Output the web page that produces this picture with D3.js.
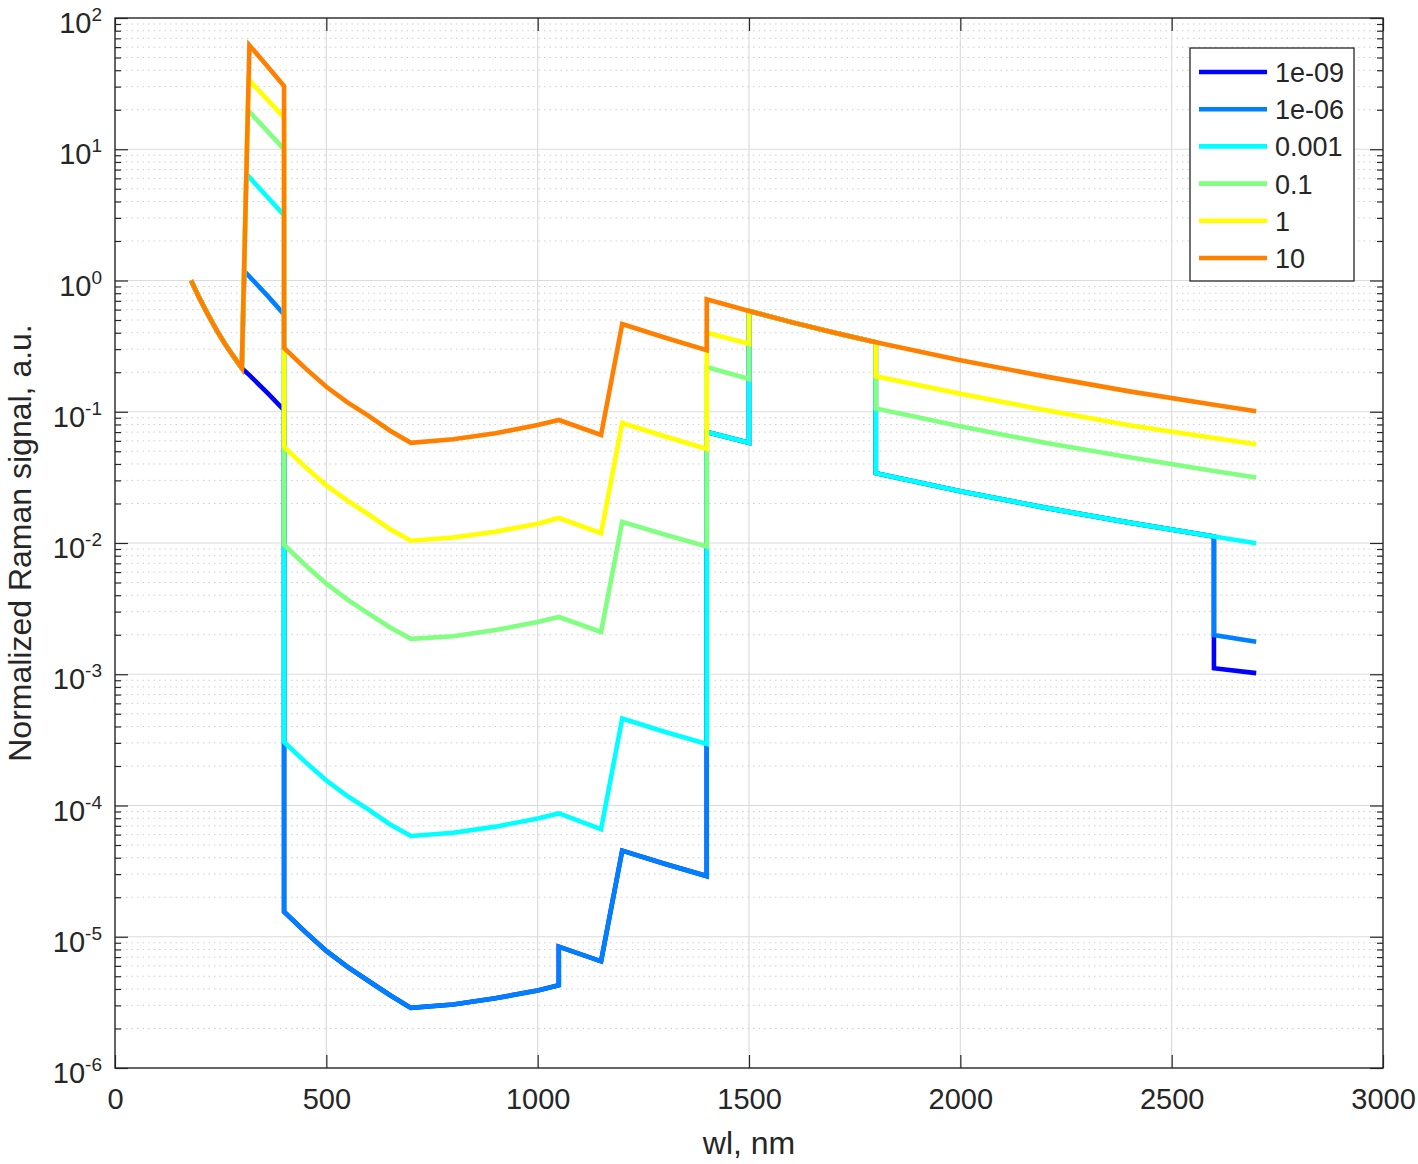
<!DOCTYPE html>
<html>
<head>
<meta charset="utf-8">
<script src="https://cdn.jsdelivr.net/npm/d3@7"></script>
<style>
  body{margin:0;background:#fff;}
  svg text{font-family:"Liberation Sans",Arial,Helvetica,sans-serif;fill:#262626;}
</style>
</head>
<body>
<div id="chart"></div>
<script>
// wavelength grid, nm (repeated values = vertical jumps)
const wavelengths = [180,200,220,240,260,280,300,318,360,400,400,450,500,550,600,650,700,800,900,1000,1050,1050,1150,1200,1300,1400,1400,1500,1500,1600,1700,1800,1800,2000,2200,2400,2600,2600,2700]
// where each series starts its 300-400 nm branch (8th grid point), nm
const riseWl = [318,306,311,314,316,318]

// normalized Raman signal for each legend value
const sig1e09 = [1.0,0.73,0.55,0.42,0.33,0.265,0.215, 0.19,0.14,0.103, 1.55e-5,1.09e-5,7.8e-6,5.9e-6,4.6e-6,3.6e-6,2.87e-6, 3.05e-6,3.4e-6,3.9e-6,4.28e-6,8.4e-6, 6.5e-6,4.53e-5,3.6e-5,2.9e-5, 0.070,0.058,0.586,0.482,0.402,0.338,0.034, 0.0248,0.0186,0.0143,0.0112,0.00111,0.00102]
const sig1e06 = [1.0,0.73,0.55,0.42,0.33,0.265,0.215, 1.18,0.77,0.552, 1.55e-5,1.09e-5,7.8e-6,5.9e-6,4.6e-6,3.6e-6,2.87e-6, 3.05e-6,3.4e-6,3.9e-6,4.28e-6,8.4e-6, 6.5e-6,4.53e-5,3.6e-5,2.9e-5, 0.070,0.058,0.586,0.482,0.402,0.338,0.034, 0.0248,0.0186,0.0143,0.0112,0.00199,0.00177]
const sig0001 = [1.0,0.73,0.55,0.42,0.33,0.265,0.215, 6.47,4.35,3.15, 3.05e-4,2.15e-4,1.55e-4,1.18e-4,9.3e-5,7.2e-5,5.86e-5, 6.2e-5,6.9e-5,7.95e-5,8.7e-5,8.7e-5, 6.6e-5,4.6e-4,3.65e-4,2.94e-4, 0.070,0.058,0.586,0.482,0.402,0.338,0.034, 0.0248,0.0186,0.0143,0.0112,0.0112,0.00996]
const sig01 = [1.0,0.73,0.55,0.42,0.33,0.265,0.215, 19.9,13.8,10.0, 0.0097,0.0068,0.0049,0.0037,0.0029,0.00228,0.00186, 0.00195,0.00217,0.0025,0.00273,0.00273, 0.0021,0.0145,0.0116,0.0094, 0.219,0.178,0.586,0.482,0.402,0.338,0.106, 0.0775,0.058,0.045,0.0353,0.0353,0.0315]
const sig1 = [1.0,0.73,0.55,0.42,0.33,0.265,0.215, 34,24,17.5, 0.054,0.038,0.0275,0.021,0.0165,0.0128,0.0104, 0.011,0.0122,0.014,0.0155,0.0155, 0.0119,0.082,0.065,0.052, 0.40,0.33,0.586,0.482,0.402,0.338,0.186, 0.137,0.103,0.079,0.063,0.063,0.0565]
const sig10 = [1.0,0.73,0.55,0.42,0.33,0.265,0.215, 62,43,30.3, 0.306,0.215,0.155,0.118,0.093,0.072,0.058, 0.0617,0.0686,0.0792,0.0865,0.0865, 0.0665,0.466,0.368,0.295, 0.72,0.586,0.586,0.482,0.402,0.338,0.338, 0.247,0.186,0.143,0.113,0.113,0.101]

const seriesNames = ['1e-09','1e-06','0.001','0.1','1','10']
const seriesValues = [sig1e09,sig1e06,sig0001,sig01,sig1,sig10]
const seriesColors = ['#0000ff','#0080ff','#00ffff','#80ff80','#ffff00','#ff8000']

const xTicks = [0,500,1000,1500,2000,2500,3000]
const yExponents = [-6,-5,-4,-3,-2,-1,0,1,2]

// ---------------- layout ----------------
const W = 1418, H = 1164
const plot = {left:115, top:18, right:1383, bottom:1068}
const majorLen = 13, minorLen = 6
const tickFont = 29, titleFont = 32

const svg = d3.select('#chart').append('svg')
    .attr('width',W).attr('height',H)
    .attr('xmlns',d3.namespaces.svg)

const x = d3.scaleLinear().domain([0,3000]).range([plot.left,plot.right])
const y = d3.scaleLog().domain([1e-6,1e2]).range([plot.bottom,plot.top])

const decades = yExponents.map(e=>Math.pow(10,e))
const minorVals = []
for (let e = -6; e < 2; e++) {
    for (let m = 2; m <= 9; m++) minorVals.push(m*Math.pow(10,e))
}

// ---------------- grid ----------------
const grid = svg.append('g').attr('class','grid')
grid.selectAll('line.minor').data(minorVals).join('line')
    .attr('class','minor')
    .attr('x1',plot.left).attr('x2',plot.right)
    .attr('y1',d=>y(d)).attr('y2',d=>y(d))
    .attr('stroke','#cfcfcf').attr('stroke-width',1)
    .attr('stroke-dasharray','1.5,4')
grid.selectAll('line.hmajor').data(decades.slice(1,-1)).join('line')
    .attr('class','hmajor')
    .attr('x1',plot.left).attr('x2',plot.right)
    .attr('y1',d=>y(d)).attr('y2',d=>y(d))
    .attr('stroke','#dcdcdc').attr('stroke-width',1.2)
grid.selectAll('line.vmajor').data(xTicks.slice(1,-1)).join('line')
    .attr('class','vmajor')
    .attr('x1',d=>x(d)).attr('x2',d=>x(d))
    .attr('y1',plot.top).attr('y2',plot.bottom)
    .attr('stroke','#dcdcdc').attr('stroke-width',1.2)

// ---------------- data lines ----------------
svg.append('clipPath').attr('id','clip').append('rect')
    .attr('x',plot.left).attr('y',plot.top)
    .attr('width',plot.right-plot.left).attr('height',plot.bottom-plot.top)

const line = d3.line().x(d=>x(d[0])).y(d=>y(d[1]))
const lineGroup = svg.append('g').attr('clip-path','url(#clip)')
seriesValues.forEach((vals,i)=>{
    const pts = wavelengths.map((w,j)=>[j===7 ? riseWl[i] : w, vals[j]])
    lineGroup.append('path')
        .datum(pts)
        .attr('d',line)
        .attr('fill','none')
        .attr('stroke',seriesColors[i])
        .attr('stroke-width',4.6)
        .attr('stroke-linejoin','miter')
})

// ---------------- axes (ticks inside, matlab style) ----------------
const axisStyle = g=>{
    g.select('.domain').remove()
    g.selectAll('.tick line').attr('stroke','#262626').attr('stroke-width',1.2)
}
svg.append('g').attr('transform',`translate(0,${plot.bottom})`)
    .call(d3.axisBottom(x).tickValues(xTicks).tickFormat(d3.format('d'))
        .tickSizeInner(-majorLen).tickSizeOuter(0).tickPadding(20))
    .call(axisStyle)
    .selectAll('text').attr('font-size',tickFont).attr('fill','#262626')
svg.append('g').attr('transform',`translate(0,${plot.top})`)
    .call(d3.axisTop(x).tickValues(xTicks).tickSizeInner(-majorLen).tickSizeOuter(0).tickFormat(''))
    .call(axisStyle)

svg.append('g').attr('transform',`translate(${plot.left},0)`)
    .call(d3.axisLeft(y).tickValues(decades).tickSizeInner(-majorLen).tickSizeOuter(0).tickFormat(''))
    .call(axisStyle)
svg.append('g').attr('transform',`translate(${plot.left},0)`)
    .call(d3.axisLeft(y).tickValues(minorVals).tickSizeInner(-minorLen).tickSizeOuter(0).tickFormat(''))
    .call(axisStyle)
svg.append('g').attr('transform',`translate(${plot.right},0)`)
    .call(d3.axisRight(y).tickValues(decades).tickSizeInner(-majorLen).tickSizeOuter(0).tickFormat(''))
    .call(axisStyle)
svg.append('g').attr('transform',`translate(${plot.right},0)`)
    .call(d3.axisRight(y).tickValues(minorVals).tickSizeInner(-minorLen).tickSizeOuter(0).tickFormat(''))
    .call(axisStyle)

// y tick labels 10^n
const yLab = svg.append('g').selectAll('text').data(yExponents).join('text')
    .attr('x',plot.left-13)
    .attr('y',d=>y(Math.pow(10,d))+15)
    .attr('text-anchor','end')
    .attr('font-size',tickFont)
yLab.append('tspan').text('10')
yLab.append('tspan').attr('dy',-12).attr('font-size',19).text(d=>d)

// box
svg.append('rect')
    .attr('x',plot.left).attr('y',plot.top)
    .attr('width',plot.right-plot.left).attr('height',plot.bottom-plot.top)
    .attr('fill','none').attr('stroke','#262626').attr('stroke-width',1.4)

// axis titles
svg.append('text')
    .attr('x',(plot.left+plot.right)/2).attr('y',1154)
    .attr('text-anchor','middle').attr('font-size',titleFont)
    .text('wl, nm')
svg.append('text')
    .attr('transform',`translate(31,${(plot.top+plot.bottom)/2}) rotate(-90)`)
    .attr('text-anchor','middle').attr('font-size',titleFont)
    .text('Normalized Raman signal, a.u.')

// ---------------- legend ----------------
const legend = svg.append('g').attr('transform','translate(1190,48)')
legend.append('rect')
    .attr('width',164).attr('height',233)
    .attr('fill','#fff').attr('stroke','#262626').attr('stroke-width',1.3)
const rowY = d3.scaleLinear().domain([0,5]).range([24,210])
const item = legend.selectAll('g.item').data(seriesNames).join('g')
    .attr('class','item')
    .attr('transform',(d,i)=>`translate(0,${rowY(i)})`)
item.append('line')
    .attr('x1',9).attr('x2',77)
    .attr('stroke',(d,i)=>seriesColors[i]).attr('stroke-width',4.6)
item.append('text')
    .attr('x',85).attr('y',10)
    .attr('font-size',27)
    .text(d=>d)
</script>
</body>
</html>
